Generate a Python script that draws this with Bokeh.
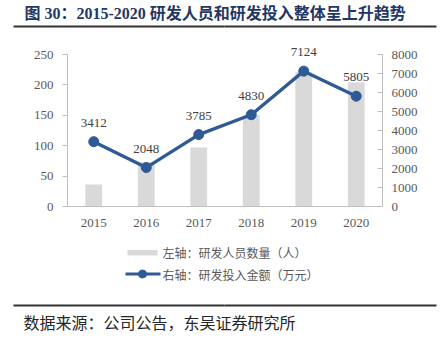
from bokeh.plotting import figure
from bokeh.models import Range1d, LinearAxis, FixedTicker, ColumnDataSource, LabelSet
from bokeh.core.properties import value
from bokeh.embed import file_html
from bokeh.resources import INLINE

years = [2015, 2016, 2017, 2018, 2019, 2020]
staff = [36, 73, 97, 150, 221, 204]            # 左轴：研发人员数量（人）
invest = [3412, 2048, 3785, 4830, 7124, 5805]  # 右轴：研发投入金额（万元）
left_ticks = [0, 50, 100, 150, 200, 250]
right_ticks = [0, 1000, 2000, 3000, 4000, 5000, 6000, 7000, 8000]

title_text = "图 30：2015-2020 研发人员和研发投入整体呈上升趋势"
legend_bar = "左轴：研发人员数量（人）"
legend_line = "右轴：研发投入金额（万元）"
source_text = "数据来源：公司公告，东吴证券研究所"

SERIF = "Liberation Serif, Noto Sans CJK SC"
CJK = "Noto Sans CJK SC"
GRAY = "#595959"
AXIS = "#BFBFBF"
BAR = "#D9D9D9"
BLUE = "#2E5A96"
DARK = "#262626"
RULE = "#333333"

# ---- layout geometry (page pixels)
W, H = 447, 340
AX_L, AX_R, AX_T, AX_B = 67, 382, 54, 206
X_LO, X_HI = years[0] - 0.5, years[-1] + 0.5
L_MAX, R_MAX = left_ticks[-1], right_ticks[-1]

ppx = (AX_R - AX_L) / (X_HI - X_LO)
ppl = (AX_B - AX_T) / L_MAX
ppr = (AX_B - AX_T) / R_MAX
x_start = X_LO - AX_L / ppx
x_end = x_start + W / ppx


def fx(px):
    return x_start + px / ppx


def fy(py):
    return (AX_B - py) / ppl


p = figure(width=W, height=H, output_backend="svg", toolbar_location=None,
           x_range=Range1d(x_start, x_end),
           y_range=Range1d(-(H - AX_B) / ppl, AX_B / ppl),
           min_border=0)
p.outline_line_color = None
p.xgrid.grid_line_color = None
p.ygrid.grid_line_color = None
p.background_fill_color = "white"
p.border_fill_color = "white"
p.extra_y_ranges = {"r": Range1d(-(H - AX_B) / ppr, AX_B / ppr)}

src = ColumnDataSource(dict(x=years, staff=staff, invest=invest,
                            lab=[str(v) for v in invest]))
p.vbar(x="x", top="staff", width=0.32, fill_color=BAR, line_color=None, source=src)
p.line(x="x", y="invest", y_range_name="r", line_width=3.3, line_color=BLUE, source=src)
p.scatter(x="x", y="invest", y_range_name="r", size=10, fill_color=BLUE,
          line_color=BLUE, source=src)
p.add_layout(LabelSet(x="x", y="invest", text="lab", y_range_name="r", source=src,
                      y_offset=19, text_align="center", text_baseline="middle",
                      text_font="Liberation Serif", text_font_size="13px",
                      text_color="#404040"))

# axes (drawn at fixed data locations so the frame can cover the whole page)
ya = p.yaxis[0]
ya.fixed_location = X_LO
ya.ticker = FixedTicker(ticks=left_ticks)
ya.bounds = (0, L_MAX)
ya.axis_line_color = AXIS
ya.major_tick_line_color = AXIS
ya.major_tick_out = 5
ya.major_tick_in = 0
ya.minor_tick_line_color = None
ya.major_label_standoff = 9
ya.major_label_text_font = "Liberation Serif"
ya.major_label_text_font_size = "13px"
ya.major_label_text_color = GRAY

ra = LinearAxis(y_range_name="r", ticker=FixedTicker(ticks=right_ticks),
                bounds=(0, R_MAX), fixed_location=X_HI)
ra.axis_line_color = AXIS
ra.major_tick_line_color = AXIS
ra.major_tick_out = 0
ra.major_tick_in = 5
ra.minor_tick_line_color = None
ra.major_label_standoff = 9
ra.major_label_text_font = "Liberation Serif"
ra.major_label_text_font_size = "13px"
ra.major_label_text_color = GRAY
p.add_layout(ra, "right")

xa = p.xaxis[0]
xa.fixed_location = 0
xa.ticker = FixedTicker(ticks=years)
xa.bounds = (X_LO, X_HI)
xa.axis_line_color = AXIS
xa.major_tick_line_color = None
xa.minor_tick_line_color = None
xa.major_label_standoff = 6
xa.major_label_text_font = "Liberation Serif"
xa.major_label_text_font_size = "13px"
xa.major_label_text_color = GRAY

# ---- header
p.text(x=[fx(24)], y=[fy(13)], text=[title_text], text_baseline="middle",
       text_font=value(SERIF), text_font_size="16px", text_font_style="bold",
       text_color="#1F3864")

# ---- legend
p.quad(left=[fx(127)], right=[fx(157)], top=[fy(249.5)], bottom=[fy(255)],
       fill_color=BAR, line_color=None)
p.text(x=[fx(162)], y=[fy(251.5)], text=[legend_bar], text_baseline="middle",
       text_font=value(CJK), text_font_size="12px", text_color=GRAY)
p.quad(left=[fx(125)], right=[fx(160)], top=[fy(272)], bottom=[fy(275)],
       fill_color=BLUE, line_color=None)
p.scatter(x=[fx(142)], y=[fy(273.5)], size=8, fill_color=BLUE, line_color=BLUE)
p.text(x=[fx(162)], y=[fy(274)], text=[legend_line], text_baseline="middle",
       text_font=value(CJK), text_font_size="12px", text_color=GRAY)

# ---- footer
p.text(x=[fx(23)], y=[fy(321)], text=[source_text], text_baseline="middle",
       text_font=value(CJK), text_font_size="16px", text_color=DARK)

# ---- header and footer rules, one renderer, drawn last
p.quad(left=[fx(13), fx(224), fx(13), fx(224)],
       right=[fx(224), fx(436), fx(224), fx(436)],
       top=[fy(25), fy(25), fy(304), fy(304)],
       bottom=[fy(27), fy(27), fy(306), fy(306)],
       fill_color=RULE, line_color=None)

open("out.html", "w").write(file_html(p, INLINE))
